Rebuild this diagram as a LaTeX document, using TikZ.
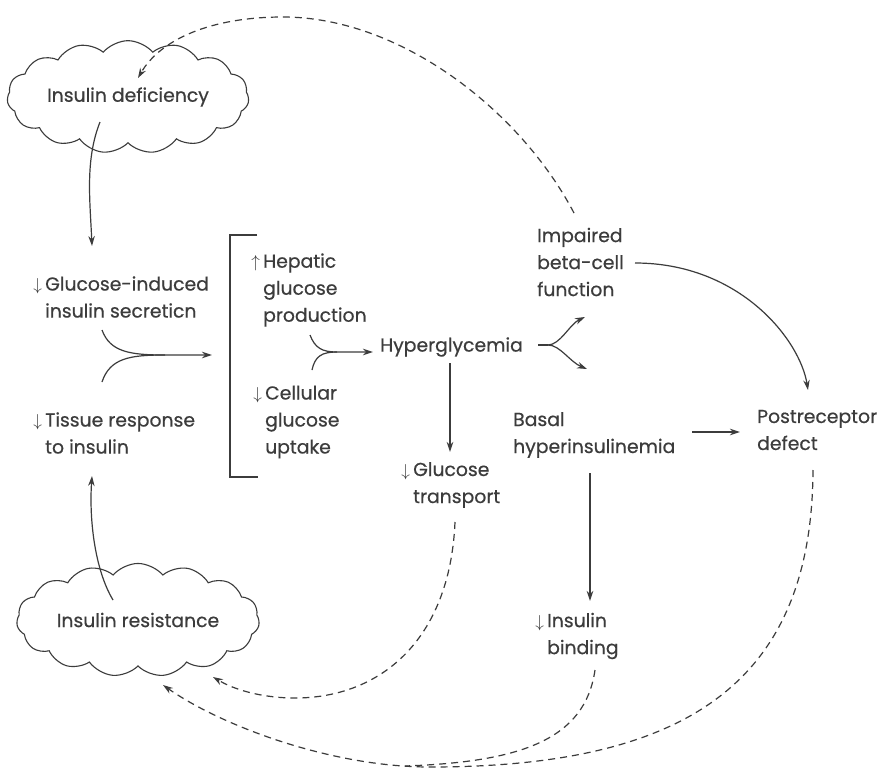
\documentclass[tikz,border=0pt]{standalone}
\usepackage{fontspec}
\setmainfont{Poppins}[FakeBold=0.5]
\usetikzlibrary{arrows.meta,shapes.symbols}
\definecolor{ink}{HTML}{3C3C3C}
\begin{document}
\begin{tikzpicture}[x=1pt,y=-1pt,
  lbl/.style={inner sep=0pt, align=left, anchor=west, text=ink, font=\fontsize{18.8}{27}\selectfont},
  conn/.style={draw=ink, line width=1.2pt, -{Stealth[length=10pt,width=6.5pt]}},
  plain/.style={draw=ink, line width=1.2pt},
  dsh/.style={conn, dash pattern=on 7pt off 5pt},
  dshplain/.style={plain, dash pattern=on 7pt off 5pt},
  cloudbox/.style={cloud, cloud puffs=15, cloud puff arc=100, aspect=2.6, draw=ink, line width=1.1pt, text=ink, font=\fontsize{18.8}{27}\selectfont}
]
\useasboundingbox (0,0) rectangle (879,771);
\fill[white] (0,0) rectangle (879,771);

% nodes
\node[cloudbox, minimum width=222pt, minimum height=84pt] (def) at (128,97) {Insulin deficiency};
\node[cloudbox, minimum width=226pt, minimum height=80pt] (res) at (138,620) {Insulin resistance};
\node[lbl] (gis) at (45,297) {\llap{$\downarrow$\,}Glucose-induced\\insulin secreticn};
\node[lbl] (tis) at (45,433) {\llap{$\downarrow$\,}Tissue response\\to insulin};
\node[lbl] (hep) at (263,290) {\llap{$\uparrow$\,}Hepatic\\glucose\\production};
\node[lbl] (cell) at (265,422) {\llap{$\downarrow$\,}Cellular\\glucose\\uptake};
\node[lbl] (hyp) at (380,347) {Hyperglycemia};
\node[lbl] (beta) at (537,262) {Impaired\\beta-cell\\function};
\node[lbl] (gt) at (413,485) {\llap{$\downarrow$\,}Glucose\\transport};
\node[lbl] (bas) at (513,435) {Basal\\hyperinsulinemia};
\node[lbl] (post) at (757,430) {Postreceptor\\defect};
\node[lbl] (ib) at (547,636) {\llap{$\downarrow$\,}Insulin\\binding};

% bracket
\draw[plain] (257,235) -- (230,235) -- (230,477) -- (258,477);

% connector end points
\coordinate (def-o) at (100,122);
\coordinate (gis-i) at (92,246);
\coordinate (res-o) at (113,600);
\coordinate (tis-i) at (92,476);
\coordinate (gis-o) at (102,330);
\coordinate (tis-o) at (102,382);
\coordinate (j1) at (165,355);
\coordinate (br-i) at (212,355);
\coordinate (hep-o) at (310,335);
\coordinate (cell-o) at (312,370);
\coordinate (j2) at (337,352);
\coordinate (hyp-i) at (373,352);
\coordinate (hyp-o) at (538,345);
\coordinate (j3) at (548,345);
\coordinate (beta-i) at (585,317);
\coordinate (bas-i) at (587,369);
\coordinate (hyp-d) at (450,363);
\coordinate (gt-i) at (450,452);
\coordinate (beta-o) at (635,263);
\coordinate (post-i) at (808,390);
\coordinate (bas-o) at (692,432);
\coordinate (post-w) at (740,432);
\coordinate (bas-d) at (590,473);
\coordinate (ib-i) at (590,601);
\coordinate (beta-t) at (574,213);
\coordinate (top) at (283,17);
\coordinate (def-i) at (138,78);
\coordinate (gt-o) at (455,522);
\coordinate (lowA) at (290,698);
\coordinate (res-i1) at (213,677);
\coordinate (post-o) at (813,470);
\coordinate (lowB) at (430,767);
\coordinate (res-i2) at (163,685);
\coordinate (ib-o) at (595,670);
\coordinate (merge) at (405,766);

% solid connectors
\draw[conn] (def-o) .. controls (85,160) and (90,200) .. (gis-i);
\draw[conn] (res-o) .. controls (95,570) and (89,520) .. (tis-i);
\draw[conn] (gis-o) .. controls (110,352) and (130,355) .. (j1) -- (br-i);
\draw[plain] (tis-o) .. controls (110,358) and (130,355) .. (j1);
\draw[conn] (hep-o) .. controls (315,348) and (322,352) .. (j2) -- (hyp-i);
\draw[plain] (cell-o) .. controls (315,356) and (322,352) .. (j2);
\draw[plain] (hyp-o) -- (j3);
\draw[conn] (j3) .. controls (560,345) and (570,324) .. (beta-i);
\draw[conn] (j3) .. controls (560,345) and (570,362) .. (bas-i);
\draw[conn] (hyp-d) -- (gt-i);
\draw[conn] (beta-o) .. controls (740,263) and (800,340) .. (post-i);
\draw[conn] (bas-o) -- (post-w);
\draw[conn] (bas-d) -- (ib-i);

% dashed feedback connectors
\draw[dsh] (beta-t) .. controls (520,110) and (400,17) .. (top) .. controls (210,17) and (160,40) .. (def-i);
\draw[dsh] (gt-o) .. controls (450,640) and (380,700) .. (lowA) .. controls (260,697) and (235,690) .. (res-i1);
\draw[dsh] (post-o) .. controls (812,680) and (690,767) .. (lowB) .. controls (330,767) and (220,725) .. (res-i2);
\draw[dshplain] (ib-o) .. controls (585,740) and (520,762) .. (merge);
\end{tikzpicture}
\end{document}
